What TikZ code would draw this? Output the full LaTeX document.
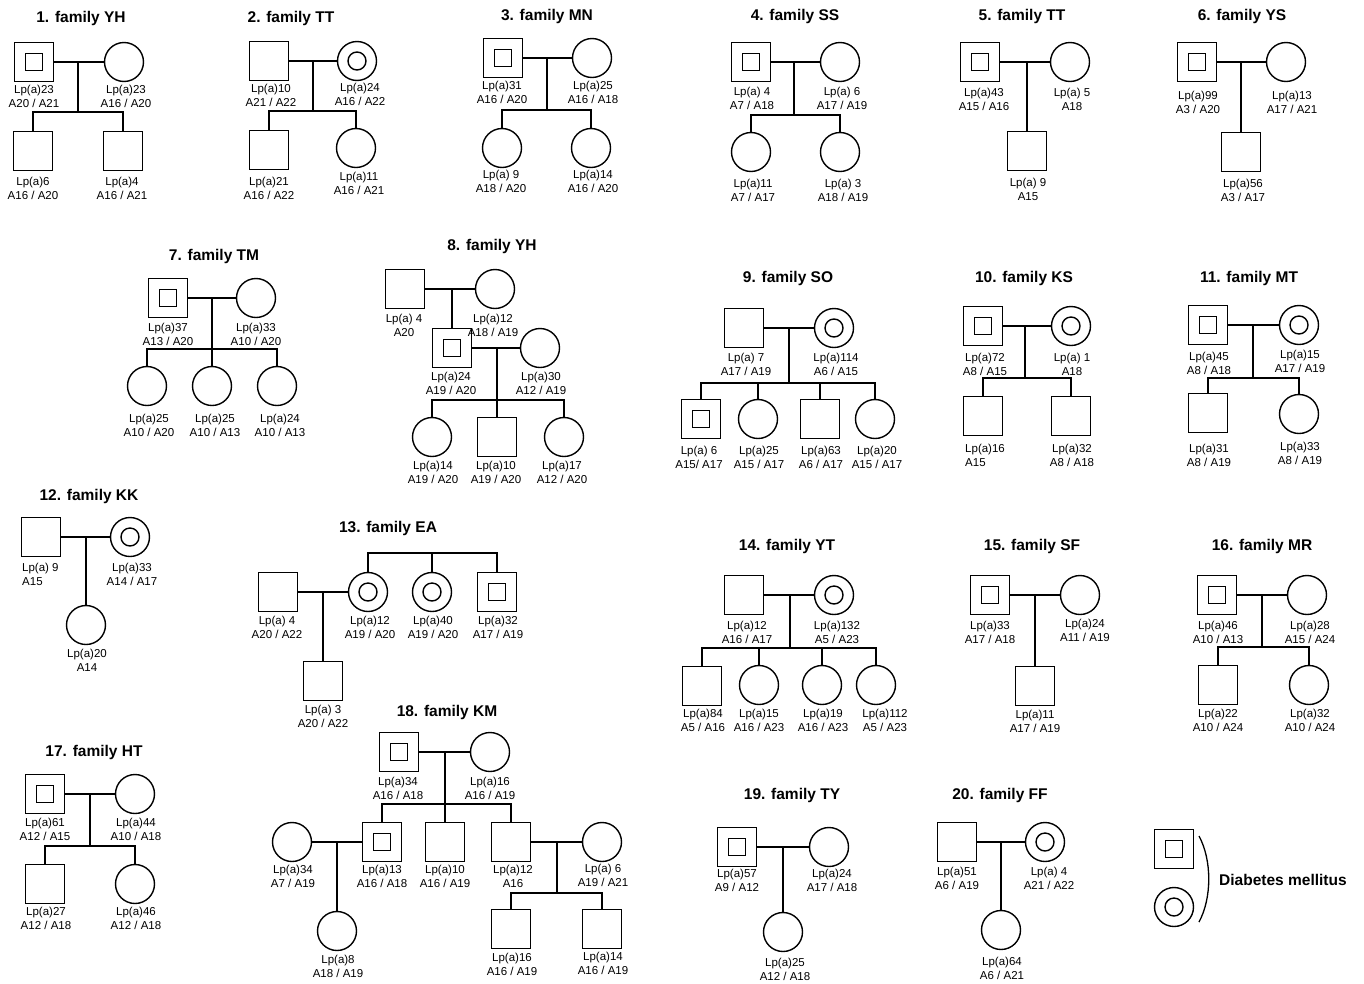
\documentclass[tikz,border=0pt]{standalone}
\usepackage{fontspec}
\newfontfamily\lsans{Liberation Sans}
\newcommand\lbl{\lsans\fontsize{11.5}{13.8}\selectfont}
\newcommand\ttlf{\lsans\bfseries\fontsize{15.5}{18}\selectfont}
\begin{document}
\begin{tikzpicture}[x=1pt,y=-1pt,
  base/.style={draw, line width=1.4pt, inner sep=0pt, minimum size=39pt},
  ms/.style={base, rectangle},
  fs/.style={base, circle},
  msd/.style={ms, path picture={\draw[line width=1.4pt] ([shift={(-8.5pt,-8.5pt)}]path picture bounding box.center) rectangle ([shift={(8.5pt,8.5pt)}]path picture bounding box.center);}},
  fsd/.style={fs, path picture={\draw[line width=1.4pt] (path picture bounding box.center) circle[radius=9pt];}},
  lab/.style={font=\lbl, align=center, inner sep=0pt},
  labl/.style={font=\lbl, align=left, inner sep=0pt, anchor=west},
  ttl/.style={font=\ttlf, inner sep=0pt},
  ln/.style={line width=1.3pt}
]
\useasboundingbox (0,0) rectangle (1364,983);

% ---------- 1. family YH
\node[ttl] (t1) at (81,18) {1. family YH};
\node[msd] (f1a) at (34,62) {};
\node[fs] (f1b) at (124,62) {};
\node[ms] (f1c) at (33,151) {};
\node[ms] (f1d) at (123,151) {};
\coordinate (f1m) at (78,62);
\coordinate (f1s) at (78,112);
\draw[ln] (f1a) -- (f1b);
\draw[ln] (f1m) -- (f1s);
\draw[ln] (f1c.north) |- (f1s) -| (f1d.north);
\node[lab] (l1a) at (34,96) {Lp(a)23\\A20 / A21};
\node[lab] (l1b) at (126,96) {Lp(a)23\\A16 / A20};
\node[lab] (l1c) at (33,188) {Lp(a)6\\A16 / A20};
\node[lab] (l1d) at (122,188) {Lp(a)4\\A16 / A21};

% ---------- 2. family TT
\node[ttl] (t2) at (291,18) {2. family TT};
\node[ms] (f2a) at (269,61) {};
\node[fsd] (f2b) at (357,61) {};
\node[ms] (f2c) at (269,150) {};
\node[fs] (f2d) at (356,148) {};
\coordinate (f2m) at (313,61);
\coordinate (f2s) at (313,111);
\draw[ln] (f2a) -- (f2b);
\draw[ln] (f2m) -- (f2s);
\draw[ln] (f2c.north) |- (f2s) -| (f2d.north);
\node[lab] (l2a) at (271,95) {Lp(a)10\\A21 / A22};
\node[lab] (l2b) at (360,94) {Lp(a)24\\A16 / A22};
\node[lab] (l2c) at (269,188) {Lp(a)21\\A16 / A22};
\node[lab] (l2d) at (359,183) {Lp(a)11\\A16 / A21};

% ---------- 3. family MN
\node[ttl] (t3) at (547,16) {3. family MN};
\node[msd] (f3a) at (503,58) {};
\node[fs] (f3b) at (592,58) {};
\node[fs] (f3c) at (502,148) {};
\node[fs] (f3d) at (591,148) {};
\coordinate (f3m) at (547,58);
\coordinate (f3s) at (547,110);
\draw[ln] (f3a) -- (f3b);
\draw[ln] (f3m) -- (f3s);
\draw[ln] (f3c.north) |- (f3s) -| (f3d.north);
\node[lab] (l3a) at (502,92) {Lp(a)31\\A16 / A20};
\node[lab] (l3b) at (593,92) {Lp(a)25\\A16 / A18};
\node[lab] (l3c) at (501,181) {Lp(a) 9\\A18 / A20};
\node[lab] (l3d) at (593,181) {Lp(a)14\\A16 / A20};

% ---------- 4. family SS
\node[ttl] (t4) at (795,16) {4. family SS};
\node[msd] (f4a) at (751,62) {};
\node[fs] (f4b) at (840,62) {};
\node[fs] (f4c) at (751,152) {};
\node[fs] (f4d) at (840,152) {};
\coordinate (f4m) at (794,62);
\coordinate (f4s) at (794,115);
\draw[ln] (f4a) -- (f4b);
\draw[ln] (f4m) -- (f4s);
\draw[ln] (f4c.north) |- (f4s) -| (f4d.north);
\node[lab] (l4a) at (752,98) {Lp(a) 4\\A7 / A18};
\node[lab] (l4b) at (842,98) {Lp(a) 6\\A17 / A19};
\node[lab] (l4c) at (753,190) {Lp(a)11\\A7 / A17};
\node[lab] (l4d) at (843,190) {Lp(a) 3\\A18 / A19};

% ---------- 5. family TT
\node[ttl] (t5) at (1022,16) {5. family TT};
\node[msd] (f5a) at (980,62) {};
\node[fs] (f5b) at (1070,62) {};
\node[ms] (f5c) at (1027,151) {};
\coordinate (f5m) at (1027,62);
\draw[ln] (f5a) -- (f5b);
\draw[ln] (f5m) -- (f5c.north);
\node[lab] (l5a) at (984,99) {Lp(a)43\\A15 / A16};
\node[lab] (l5b) at (1072,99) {Lp(a) 5\\A18};
\node[lab] (l5c) at (1028,189) {Lp(a) 9\\A15};

% ---------- 6. family YS
\node[ttl] (t6) at (1242,16) {6. family YS};
\node[msd] (f6a) at (1197,62) {};
\node[fs] (f6b) at (1286,62) {};
\node[ms] (f6c) at (1241,152) {};
\coordinate (f6m) at (1241,62);
\draw[ln] (f6a) -- (f6b);
\draw[ln] (f6m) -- (f6c.north);
\node[lab] (l6a) at (1198,102) {Lp(a)99\\A3 / A20};
\node[lab] (l6b) at (1292,102) {Lp(a)13\\A17 / A21};
\node[lab] (l6c) at (1243,190) {Lp(a)56\\A3 / A17};

% ---------- 7. family TM
\node[ttl] (t7) at (214,256) {7. family TM};
\node[msd] (f7a) at (168,298) {};
\node[fs] (f7b) at (256,298) {};
\node[fs] (f7c) at (147,386) {};
\node[fs] (f7d) at (212,386) {};
\node[fs] (f7e) at (277,386) {};
\coordinate (f7m) at (212,298);
\coordinate (f7s) at (212,349);
\draw[ln] (f7a) -- (f7b);
\draw[ln] (f7m) -- (f7d.north);
\draw[ln] (f7c.north) |- (f7s) -| (f7e.north);
\node[lab] (l7a) at (168,334) {Lp(a)37\\A13 / A20};
\node[lab] (l7b) at (256,334) {Lp(a)33\\A10 / A20};
\node[lab] (l7c) at (149,425) {Lp(a)25\\A10 / A20};
\node[lab] (l7d) at (215,425) {Lp(a)25\\A10 / A13};
\node[lab] (l7e) at (280,425) {Lp(a)24\\A10 / A13};

% ---------- 8. family YH
\node[ttl] (t8) at (492,246) {8. family YH};
\node[ms] (f8a) at (405,289) {};
\node[fs] (f8b) at (495,289) {};
\node[msd] (f8c) at (452,348) {};
\node[fs] (f8d) at (540,348) {};
\node[fs] (f8e) at (432,437) {};
\node[ms] (f8f) at (497,437) {};
\node[fs] (f8g) at (564,437) {};
\coordinate (f8m) at (452,289);
\coordinate (f8n) at (497,348);
\coordinate (f8s) at (497,400);
\draw[ln] (f8a) -- (f8b);
\draw[ln] (f8m) -- (f8c.north);
\draw[ln] (f8c) -- (f8d);
\draw[ln] (f8n) -- (f8f.north);
\draw[ln] (f8e.north) |- (f8s) -| (f8g.north);
\node[lab] (l8a) at (404,325) {Lp(a) 4\\A20};
\node[lab] (l8b) at (493,325) {Lp(a)12\\A18 / A19};
\node[lab] (l8c) at (451,383) {Lp(a)24\\A19 / A20};
\node[lab] (l8d) at (541,383) {Lp(a)30\\A12 / A19};
\node[lab] (l8e) at (433,472) {Lp(a)14\\A19 / A20};
\node[lab] (l8f) at (496,472) {Lp(a)10\\A19 / A20};
\node[lab] (l8g) at (562,472) {Lp(a)17\\A12 / A20};

% ---------- 9. family SO
\node[ttl] (t9) at (788,278) {9. family SO};
\node[ms] (f9a) at (744,328) {};
\node[fsd] (f9b) at (834,328) {};
\node[msd] (f9c) at (701,419) {};
\node[fs] (f9d) at (758,419) {};
\node[ms] (f9e) at (820,419) {};
\node[fs] (f9f) at (875,419) {};
\coordinate (f9m) at (789,328);
\coordinate (f9s) at (789,383);
\draw[ln] (f9a) -- (f9b);
\draw[ln] (f9m) -- (f9s);
\draw[ln] (f9c.north) |- (f9s) -| (f9f.north);
\draw[ln] (f9d.north) -- (f9d.north |- f9s);
\draw[ln] (f9e.north) -- (f9e.north |- f9s);
\node[lab] (l9a) at (746,364) {Lp(a) 7\\A17 / A19};
\node[lab] (l9b) at (836,364) {Lp(a)114\\A6 / A15};
\node[lab] (l9c) at (699,457) {Lp(a) 6\\A15/ A17};
\node[lab] (l9d) at (759,457) {Lp(a)25\\A15 / A17};
\node[lab] (l9e) at (821,457) {Lp(a)63\\A6 / A17};
\node[lab] (l9f) at (877,457) {Lp(a)20\\A15 / A17};

% ---------- 10. family KS
\node[ttl] (t10) at (1024,278) {10. family KS};
\node[msd] (f10a) at (983,326) {};
\node[fsd] (f10b) at (1071,326) {};
\node[ms] (f10c) at (983,416) {};
\node[ms] (f10d) at (1071,416) {};
\coordinate (f10m) at (1025,326);
\coordinate (f10s) at (1025,378);
\draw[ln] (f10a) -- (f10b);
\draw[ln] (f10m) -- (f10s);
\draw[ln] (f10c.north) |- (f10s) -| (f10d.north);
\node[lab] (l10a) at (985,364) {Lp(a)72\\A8 / A15};
\node[lab] (l10b) at (1072,364) {Lp(a) 1\\A18};
\node[labl] (l10c) at (965,455) {Lp(a)16\\A15};
\node[lab] (l10d) at (1072,455) {Lp(a)32\\A8 / A18};

% ---------- 11. family MT
\node[ttl] (t11) at (1249,278) {11. family MT};
\node[msd] (f11a) at (1208,325) {};
\node[fsd] (f11b) at (1299,325) {};
\node[ms] (f11c) at (1208,413) {};
\node[fs] (f11d) at (1299,414) {};
\coordinate (f11m) at (1253,325);
\coordinate (f11s) at (1253,378);
\draw[ln] (f11a) -- (f11b);
\draw[ln] (f11m) -- (f11s);
\draw[ln] (f11c.north) |- (f11s) -| (f11d.north);
\node[lab] (l11a) at (1209,363) {Lp(a)45\\A8 / A18};
\node[lab] (l11b) at (1300,361) {Lp(a)15\\A17 / A19};
\node[lab] (l11c) at (1209,455) {Lp(a)31\\A8 / A19};
\node[lab] (l11d) at (1300,453) {Lp(a)33\\A8 / A19};

% ---------- 12. family KK
\node[ttl] (t12) at (89,496) {12. family KK};
\node[ms] (f12a) at (41,537) {};
\node[fsd] (f12b) at (130,537) {};
\node[fs] (f12c) at (86,625) {};
\coordinate (f12m) at (86,537);
\draw[ln] (f12a) -- (f12b);
\draw[ln] (f12m) -- (f12c.north);
\node[labl] (l12a) at (22,574) {Lp(a) 9\\A15};
\node[lab] (l12b) at (132,574) {Lp(a)33\\A14 / A17};
\node[lab] (l12c) at (87,660) {Lp(a)20\\A14};

% ---------- 13. family EA
\node[ttl] (t13) at (388,528) {13. family EA};
\node[ms] (f13a) at (278,592) {};
\node[fsd] (f13b) at (368,592) {};
\node[fsd] (f13c) at (432,592) {};
\node[msd] (f13d) at (497,592) {};
\node[ms] (f13e) at (323,681) {};
\coordinate (f13t) at (432,553);
\coordinate (f13m) at (323,592);
\draw[ln] (f13a) -- (f13b);
\draw[ln] (f13m) -- (f13e.north);
\draw[ln] (f13b.north) |- (f13t) -| (f13d.north);
\draw[ln] (f13c.north) -- (f13c.north |- f13t);
\node[lab] (l13a) at (277,627) {Lp(a) 4\\A20 / A22};
\node[lab] (l13b) at (370,627) {Lp(a)12\\A19 / A20};
\node[lab] (l13c) at (433,627) {Lp(a)40\\A19 / A20};
\node[lab] (l13d) at (498,627) {Lp(a)32\\A17 / A19};
\node[lab] (l13e) at (323,716) {Lp(a) 3\\A20 / A22};

% ---------- 14. family YT
\node[ttl] (t14) at (787,546) {14. family YT};
\node[ms] (f14a) at (744,595) {};
\node[fsd] (f14b) at (834,595) {};
\node[ms] (f14c) at (702,686) {};
\node[fs] (f14d) at (759,685) {};
\node[fs] (f14e) at (822,685) {};
\node[fs] (f14f) at (876,685) {};
\coordinate (f14m) at (790,595);
\coordinate (f14s) at (790,648);
\draw[ln] (f14a) -- (f14b);
\draw[ln] (f14m) -- (f14s);
\draw[ln] (f14c.north) |- (f14s) -| (f14f.north);
\draw[ln] (f14d.north) -- (f14d.north |- f14s);
\draw[ln] (f14e.north) -- (f14e.north |- f14s);
\node[lab] (l14a) at (747,632) {Lp(a)12\\A16 / A17};
\node[lab] (l14b) at (837,632) {Lp(a)132\\A5 / A23};
\node[lab] (l14c) at (703,720) {Lp(a)84\\A5 / A16};
\node[lab] (l14d) at (759,720) {Lp(a)15\\A16 / A23};
\node[lab] (l14e) at (823,720) {Lp(a)19\\A16 / A23};
\node[lab] (l14f) at (885,720) {Lp(a)112\\A5 / A23};

% ---------- 15. family SF
\node[ttl] (t15) at (1032,546) {15. family SF};
\node[msd] (f15a) at (990,595) {};
\node[fs] (f15b) at (1080,595) {};
\node[ms] (f15c) at (1035,686) {};
\coordinate (f15m) at (1035,595);
\draw[ln] (f15a) -- (f15b);
\draw[ln] (f15m) -- (f15c.north);
\node[lab] (l15a) at (990,632) {Lp(a)33\\A17 / A18};
\node[lab] (l15b) at (1085,630) {Lp(a)24\\A11 / A19};
\node[lab] (l15c) at (1035,721) {Lp(a)11\\A17 / A19};

% ---------- 16. family MR
\node[ttl] (t16) at (1262,546) {16. family MR};
\node[msd] (f16a) at (1217,595) {};
\node[fs] (f16b) at (1307,595) {};
\node[ms] (f16c) at (1218,685) {};
\node[fs] (f16d) at (1309,685) {};
\coordinate (f16m) at (1262,595);
\coordinate (f16s) at (1262,647);
\draw[ln] (f16a) -- (f16b);
\draw[ln] (f16m) -- (f16s);
\draw[ln] (f16c.north) |- (f16s) -| (f16d.north);
\node[lab] (l16a) at (1218,632) {Lp(a)46\\A10 / A13};
\node[lab] (l16b) at (1310,632) {Lp(a)28\\A15 / A24};
\node[lab] (l16c) at (1218,720) {Lp(a)22\\A10 / A24};
\node[lab] (l16d) at (1310,720) {Lp(a)32\\A10 / A24};

% ---------- 17. family HT
\node[ttl] (t17) at (94,752) {17. family HT};
\node[msd] (f17a) at (45,794) {};
\node[fs] (f17b) at (135,794) {};
\node[ms] (f17c) at (45,884) {};
\node[fs] (f17d) at (135,884) {};
\coordinate (f17m) at (90,794);
\coordinate (f17s) at (90,846);
\draw[ln] (f17a) -- (f17b);
\draw[ln] (f17m) -- (f17s);
\draw[ln] (f17c.north) |- (f17s) -| (f17d.north);
\node[lab] (l17a) at (45,829) {Lp(a)61\\A12 / A15};
\node[lab] (l17b) at (136,829) {Lp(a)44\\A10 / A18};
\node[lab] (l17c) at (46,918) {Lp(a)27\\A12 / A18};
\node[lab] (l17d) at (136,918) {Lp(a)46\\A12 / A18};

% ---------- 18. family KM
\node[ttl] (t18) at (447,712) {18. family KM};
\node[msd] (f18a) at (399,752) {};
\node[fs] (f18b) at (490,752) {};
\node[fs] (f18c) at (292,842) {};
\node[msd] (f18d) at (382,842) {};
\node[ms] (f18e) at (445,842) {};
\node[ms] (f18f) at (511,842) {};
\node[fs] (f18h) at (602,842) {};
\node[fs] (f18g) at (337,931) {};
\node[ms] (f18i) at (511,929) {};
\node[ms] (f18j) at (602,929) {};
\coordinate (f18m) at (445,752);
\coordinate (f18s) at (445,804);
\coordinate (f18n) at (337,842);
\coordinate (f18p) at (557,842);
\coordinate (f18q) at (557,893);
\draw[ln] (f18a) -- (f18b);
\draw[ln] (f18m) -- (f18e.north);
\draw[ln] (f18d.north) |- (f18s) -| (f18f.north);
\draw[ln] (f18c) -- (f18d);
\draw[ln] (f18n) -- (f18g.north);
\draw[ln] (f18f) -- (f18h);
\draw[ln] (f18p) -- (f18q);
\draw[ln] (f18i.north) |- (f18q) -| (f18j.north);
\node[lab] (l18a) at (398,788) {Lp(a)34\\A16 / A18};
\node[lab] (l18b) at (490,788) {Lp(a)16\\A16 / A19};
\node[lab] (l18c) at (293,876) {Lp(a)34\\A7 / A19};
\node[lab] (l18d) at (382,876) {Lp(a)13\\A16 / A18};
\node[lab] (l18e) at (445,876) {Lp(a)10\\A16 / A19};
\node[lab] (l18f) at (513,876) {Lp(a)12\\A16};
\node[lab] (l18h) at (603,875) {Lp(a) 6\\A19 / A21};
\node[lab] (l18g) at (338,966) {Lp(a)8\\A18 / A19};
\node[lab] (l18i) at (512,964) {Lp(a)16\\A16 / A19};
\node[lab] (l18j) at (603,963) {Lp(a)14\\A16 / A19};

% ---------- 19. family TY
\node[ttl] (t19) at (792,795) {19. family TY};
\node[msd] (f19a) at (737,847) {};
\node[fs] (f19b) at (829,847) {};
\node[fs] (f19c) at (783,932) {};
\coordinate (f19m) at (783,847);
\draw[ln] (f19a) -- (f19b);
\draw[ln] (f19m) -- (f19c.north);
\node[lab] (l19a) at (737,880) {Lp(a)57\\A9 / A12};
\node[lab] (l19b) at (832,880) {Lp(a)24\\A17 / A18};
\node[lab] (l19c) at (785,969) {Lp(a)25\\A12 / A18};

% ---------- 20. family FF
\node[ttl] (t20) at (1000,795) {20. family FF};
\node[ms] (f20a) at (957,842) {};
\node[fsd] (f20b) at (1045,842) {};
\node[fs] (f20c) at (1001,930) {};
\coordinate (f20m) at (1001,842);
\draw[ln] (f20a) -- (f20b);
\draw[ln] (f20m) -- (f20c.north);
\node[lab] (l20a) at (957,878) {Lp(a)51\\A6 / A19};
\node[lab] (l20b) at (1049,878) {Lp(a) 4\\A21 / A22};
\node[lab] (l20c) at (1002,968) {Lp(a)64\\A6 / A21};

% ---------- legend
\node[msd] (lg1) at (1174,849) {};
\node[fsd] (lg2) at (1174,907) {};
\coordinate (lgt) at (1199,836);
\coordinate (lgb) at (1199,922);
\draw[ln] (lgt) .. controls (1212,860) and (1212,898) .. (lgb);
\node[ttl, anchor=west] (lgx) at (1219,880) {Diabetes mellitus};
\end{tikzpicture}
\end{document}
